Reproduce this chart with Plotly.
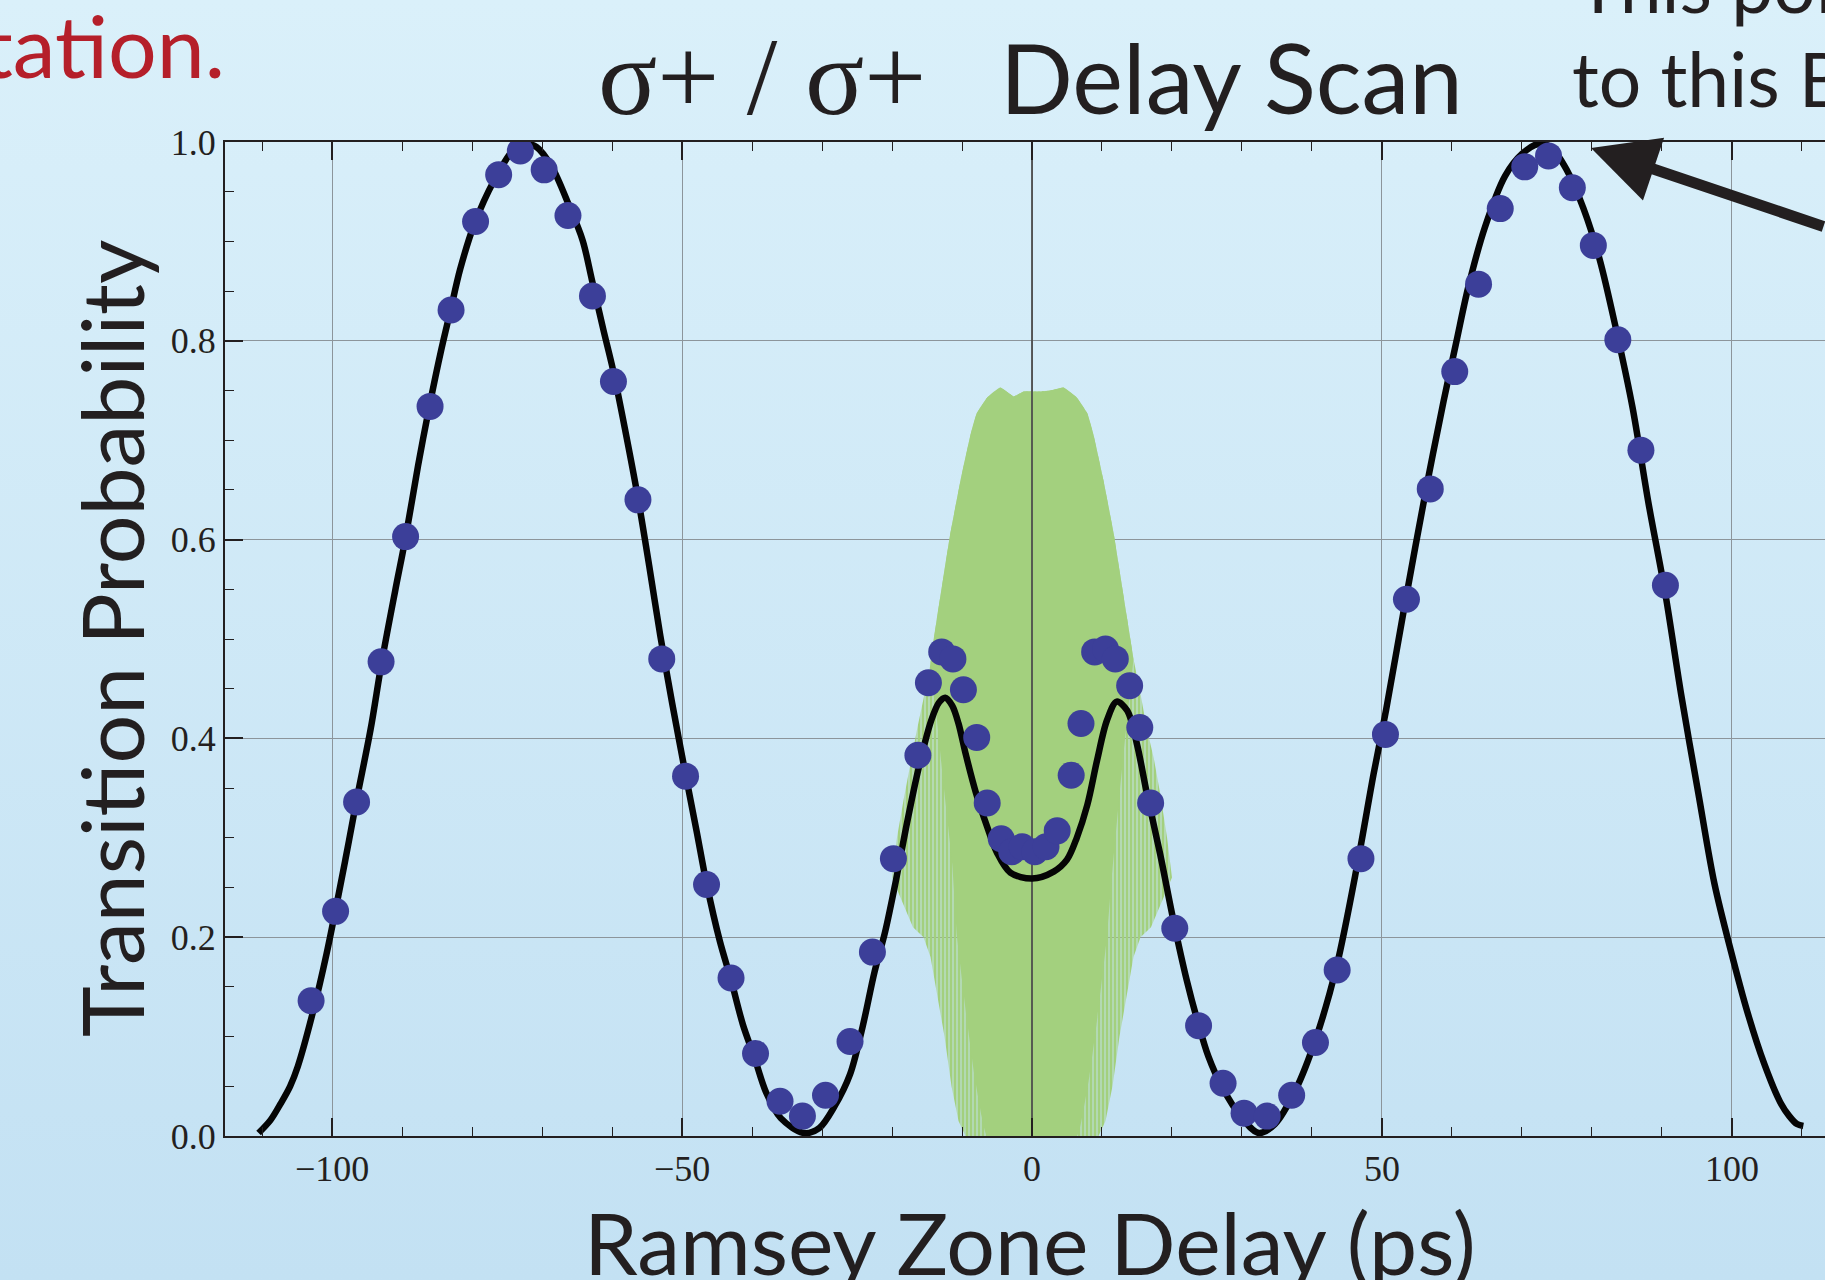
import plotly.graph_objects as go

# ---------------- data ----------------
# measured points (delay in ps, transition probability)
pts_x = [-103.0, -99.5, -96.5, -93.0, -89.5, -86.0, -83.0, -79.5, -76.2, -73.1,
         -69.7, -66.3, -62.8, -59.8, -56.3, -52.9, -49.5, -46.5, -43.0, -39.5,
         -36.0, -32.8, -29.5, -26.0, -22.8, -19.8, -16.3, -14.8, -12.9, -11.3,
         -9.8, -7.9, -6.4, -4.4, -2.9, -1.4, 0.4, 2.0, 3.6, 5.6,
         7.0, 8.95, 10.5, 11.9, 13.95, 15.4, 16.95, 20.4, 23.8, 27.3,
         30.3, 33.6, 37.1, 40.5, 43.6, 47.0, 50.5, 53.5, 56.9, 60.4,
         63.8, 66.9, 70.4, 73.8, 77.2, 80.2, 83.7, 87.0, 90.5]
pts_y = [0.136, 0.226, 0.336, 0.477, 0.603, 0.734, 0.831, 0.920, 0.967, 0.991,
         0.972, 0.926, 0.845, 0.759, 0.640, 0.480, 0.362, 0.253, 0.159, 0.083,
         0.035, 0.020, 0.041, 0.095, 0.185, 0.279, 0.383, 0.456, 0.487, 0.480,
         0.449, 0.401, 0.335, 0.299, 0.286, 0.291, 0.286, 0.291, 0.307, 0.363,
         0.415, 0.487, 0.490, 0.480, 0.453, 0.411, 0.335, 0.209, 0.111, 0.053,
         0.023, 0.020, 0.041, 0.094, 0.167, 0.279, 0.404, 0.540, 0.651, 0.769,
         0.857, 0.933, 0.975, 0.986, 0.954, 0.896, 0.801, 0.690, 0.554]

# black fit curve
curve_x = [-110.5, -108.8, -107.4, -106.0, -104.9, -102.8, -100.8, -98.1, -96.5, -94.5, -92.9, -91.0,
           -89.5, -87.7, -86.1, -84.4, -83.1, -81.7, -79.7, -76.8, -74.1, -72.4,
           -70.8, -68.6, -66.2, -64.2, -62.9, -61.2, -59.9, -58.2, -56.3, -54.7,
           -53.1, -51.4, -49.5, -47.9, -46.5, -44.6, -43.0, -41.3, -39.7, -38.0,
           -35.9, -32.6, -30.4, -28.2, -26.0, -24.2, -22.5, -21.0, -19.5, -18.0,
           -16.2, -14.4, -13.3, -12.4, -11.4, -10.5, -9.5, -8.0, -6.4, -5.0,
           -3.1, 0.0, 3.1, 5.0, 6.4, 7.9, 9.3, 10.7, 12.1, 13.6,
           15.0, 16.4, 18.3, 20.2, 22.1, 23.6, 25.2, 27.1, 30.0, 32.4,
           34.7, 37.7, 40.6, 43.5, 46.5, 48.8, 50.6, 53.2, 56.5, 58.8,
           60.6, 62.3, 64.7, 67.6, 70.0, 72.3, 74.1, 76.4, 78.8, 81.1,
           83.5, 85.8, 88.1, 90.5, 92.8, 95.2, 97.5, 99.9, 102.2, 104.6,
           106.9, 108.2, 109.3, 110.2]
curve_y = [0.003, 0.016, 0.032, 0.050, 0.070, 0.123, 0.183, 0.278, 0.338, 0.409, 0.477, 0.548,
           0.602, 0.675, 0.734, 0.791, 0.830, 0.872, 0.917, 0.962, 0.992, 0.998,
           0.995, 0.975, 0.937, 0.901, 0.862, 0.810, 0.772, 0.713, 0.642, 0.574,
           0.503, 0.435, 0.364, 0.306, 0.254, 0.196, 0.157, 0.112, 0.080, 0.044,
           0.018, 0.003, 0.008, 0.030, 0.062, 0.110, 0.165, 0.205, 0.255, 0.310,
           0.370, 0.418, 0.436, 0.441, 0.433, 0.415, 0.385, 0.345, 0.311, 0.285,
           0.265, 0.259, 0.266, 0.278, 0.300, 0.333, 0.378, 0.418, 0.437, 0.428,
           0.394, 0.345, 0.284, 0.217, 0.157, 0.117, 0.080, 0.050, 0.018, 0.003,
           0.012, 0.047, 0.099, 0.170, 0.274, 0.364, 0.429, 0.532, 0.658, 0.739,
           0.798, 0.853, 0.914, 0.966, 0.988, 0.998, 0.995, 0.972, 0.933, 0.882,
           0.810, 0.733, 0.636, 0.545, 0.442, 0.345, 0.254, 0.185, 0.125, 0.073,
           0.034, 0.020, 0.012, 0.010]

# green fast-oscillation band: upper envelope, outer (striped) lower edge, solid-core lower edge
green_upper_x = [-20.0, -19.3, -18.3, -17.4, -16.4, -15.5, -14.5, -13.6, -12.6, -11.7, -10.2,
                 -8.8, -7.9, -6.4, -4.5, -2.6, -1.2, 0.0, 1.2, 2.6, 4.5,
                 6.4, 7.9, 8.8, 10.2, 11.7, 12.6, 13.6, 14.5, 15.5, 16.4,
                 17.4, 18.3, 19.3, 20.0]
green_upper_y = [0.26, 0.30, 0.34, 0.375, 0.41, 0.44, 0.475, 0.52, 0.565, 0.605, 0.66,
                 0.705, 0.727, 0.743, 0.753, 0.744, 0.749, 0.749, 0.749, 0.750, 0.753,
                 0.743, 0.727, 0.705, 0.66, 0.605, 0.565, 0.52, 0.48, 0.445, 0.41,
                 0.38, 0.345, 0.30, 0.26]
green_outer_low_x = [-20.0, -18.8, -17.0, -15.5, -14.5, -13.5, -12.5, -11.5, -10.5, -9.5, 9.5,
                     10.5, 11.5, 12.5, 13.5, 14.5, 15.5, 17.0, 18.8, 20.0]
green_outer_low_y = [0.26, 0.24, 0.21, 0.20, 0.18, 0.14, 0.10, 0.05, 0.015, 0.0, 0.0,
                     0.015, 0.05, 0.10, 0.14, 0.18, 0.20, 0.21, 0.24, 0.26]
green_core_low_x = [-14.5, -13.6, -12.6, -11.4, -10.7, -9.3, -8.2, -7.2, -6.4, 6.4,
                    7.2, 8.2, 9.3, 10.7, 11.4, 12.6, 13.6, 14.5]
green_core_low_y = [0.475, 0.42, 0.351, 0.274, 0.20, 0.117, 0.06, 0.02, 0.0, 0.0,
                    0.02, 0.06, 0.117, 0.20, 0.26, 0.351, 0.42, 0.48]

x_tickvals = [-100, -50, 0, 50, 100]
x_ticktext = ["\u2212100", "\u221250", "0", "50", "100"]
y_tickvals = [0.0, 0.2, 0.4, 0.6, 0.8, 1.0]
y_ticktext = ["0.0", "0.2", "0.4", "0.6", "0.8", "1.0"]

# ---------------- styling ----------------
W, H = 1825, 1280
PL, PR, PT, PB = 225, 1825, 142, 1136   # plot area in pixels
INK = "#231f20"
SANS = "Lato"
SERIF = "Liberation Serif"
GREEN = "#a3d07e"

fig = go.Figure()

# page background with a soft vertical gradient (own hidden subplot, drawn first)
fig.add_trace(go.Scatter(
    x=[0, 1, 1, 0, 0], y=[0, 0, 1, 1, 0], xaxis="x", yaxis="y",
    mode="lines", line=dict(width=0), fill="toself",
    fillgradient=dict(type="vertical",
                      colorscale=[[0, "#c3e1f3"], [1, "#daf0fa"]]),
    hoverinfo="skip", showlegend=False))

# outer striped part of the green band
ox = green_upper_x + green_outer_low_x[::-1]
oy = green_upper_y + green_outer_low_y[::-1]
fig.add_trace(go.Scatter(
    x=ox, y=oy, xaxis="x2", yaxis="y2", mode="lines", line=dict(width=0),
    fill="toself", fillcolor="rgba(163,208,126,0.45)",
    fillpattern=dict(shape="|", fgcolor=GREEN, fgopacity=1, size=4, solidity=0.6),
    hoverinfo="skip", showlegend=False))

# solid core of the green band
cux = [v for v in green_upper_x if abs(v) <= 14.5]
cuy = [green_upper_y[i] for i, v in enumerate(green_upper_x) if abs(v) <= 14.5]
fig.add_trace(go.Scatter(
    x=cux + green_core_low_x[::-1], y=cuy + green_core_low_y[::-1],
    xaxis="x2", yaxis="y2", mode="lines", line=dict(width=0, shape="spline", smoothing=0.4),
    fill="toself", fillcolor=GREEN, hoverinfo="skip", showlegend=False))

# dark zero-delay reference line (on top of the green band)
fig.add_trace(go.Scatter(
    x=[0, 0], y=[0, 1], xaxis="x2", yaxis="y2", mode="lines",
    line=dict(color="#4d4d4d", width=1.8), hoverinfo="skip", showlegend=False))

# fit curve
fig.add_trace(go.Scatter(
    x=curve_x, y=curve_y, xaxis="x2", yaxis="y2", mode="lines",
    line=dict(color="#050505", width=6.5, shape="spline", smoothing=0.9),
    showlegend=False))

# data points
fig.add_trace(go.Scatter(
    x=pts_x, y=pts_y, xaxis="x2", yaxis="y2", mode="markers",
    marker=dict(color="#3c3f99", size=27, line=dict(width=0)),
    showlegend=False))

axis_common = dict(
    ticks="inside", ticklen=18, tickwidth=1.5, tickcolor=INK,
    showline=True, linecolor=INK, linewidth=2,
    showgrid=True, gridcolor="#8c959b", gridwidth=1.4, zeroline=False,
    tickfont=dict(family=SERIF, size=36, color=INK),
    automargin=False,
)

fig.update_layout(
    width=W, height=H,
    margin=dict(l=0, r=0, t=0, b=0, autoexpand=False),
    paper_bgcolor="#d0eaf7",
    plot_bgcolor="rgba(0,0,0,0)",
    showlegend=False,
    xaxis=dict(domain=[0, 1], range=[0, 1], visible=False, fixedrange=True, automargin=False),
    yaxis=dict(domain=[0, 1], range=[0, 1], visible=False, fixedrange=True, automargin=False),
    xaxis2=dict(domain=[PL / W, PR / W], anchor="y2", range=[-115.3, 113.3],
                tickvals=x_tickvals, ticktext=x_ticktext, mirror="ticks",
                minor=dict(ticks="inside", ticklen=9, tickwidth=1.3, tickcolor=INK,
                           dtick=10, tick0=0, showgrid=False),
                **axis_common),
    yaxis2=dict(domain=[1 - PB / H, 1 - PT / H], anchor="x2", range=[0, 1],
                tickvals=y_tickvals, ticktext=y_ticktext, mirror=False,
                minor=dict(ticks="inside", ticklen=9, tickwidth=1.3, tickcolor=INK,
                           dtick=0.05, tick0=0, showgrid=False),
                **axis_common),
)

# arrow: tip near the right-hand peak, tail at the right page edge
# (background axes x/y span the whole page 0..1, so they act as page coordinates)
tip_px = (1591, 148)
tail_px = (1825, 227)

annotations = [
    # chart title
    dict(text='<span style="font-family:\'Liberation Serif\';font-size:110px">σ+ / σ+</span>   Delay Scan',
         x=1030 / W, y=1 - 77 / H, xref="paper", yref="paper",
         xanchor="center", yanchor="middle", showarrow=False,
         font=dict(family=SANS, size=96, color=INK)),
    # y axis title
    dict(text="Transition Probability", textangle=-90,
         x=110 / W, y=1 - 639 / H, xref="paper", yref="paper",
         xanchor="center", yanchor="middle", showarrow=False,
         font=dict(family=SANS, size=86, color=INK)),
    # x axis title
    dict(text="Ramsey Zone Delay (ps)",
         x=1030 / W, y=1 - 1241 / H, xref="paper", yref="paper",
         xanchor="center", yanchor="middle", showarrow=False,
         font=dict(family=SANS, size=86, color=INK)),
    # slide text fragments around the chart
    dict(text="tation.", x=227 / W, y=1 - 44 / H, xref="paper", yref="paper",
         xanchor="right", yanchor="middle", showarrow=False,
         font=dict(family=SANS, size=86, color="#b51f2a")),
    dict(text="This poi", x=1574 / W, y=1 + 16 / H, xref="paper", yref="paper",
         xanchor="left", yanchor="middle", showarrow=False,
         font=dict(family=SANS, size=75, color=INK)),
    dict(text="to this B", x=1570 / W, y=1 - 78 / H, xref="paper", yref="paper",
         xanchor="left", yanchor="middle", showarrow=False,
         font=dict(family=SANS, size=75, color=INK)),
    # pointer arrow
    dict(text="", x=tip_px[0] / W, y=1 - tip_px[1] / H, xref="x", yref="y",
         ax=tail_px[0] / W, ay=1 - tail_px[1] / H, axref="x", ayref="y",
         showarrow=True, arrowhead=2, arrowsize=1.2,
         arrowwidth=11, arrowcolor=INK, standoff=0, startstandoff=0),
]
fig.update_layout(annotations=annotations)

fig.write_html("out.html")
